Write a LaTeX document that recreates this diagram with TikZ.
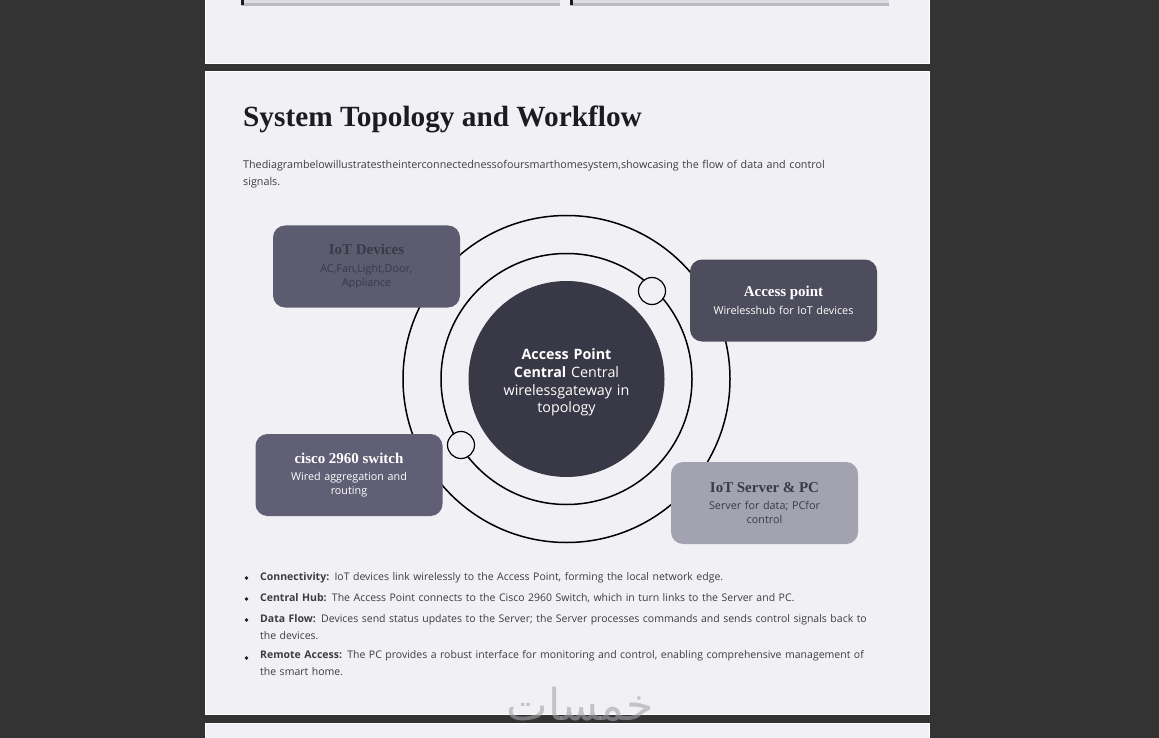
\documentclass[tikz,border=0pt]{standalone}
\usepackage{fontspec}
\setmainfont{Open Sans}
\newfontfamily\headfont{Liberation Serif}
\newfontfamily\arabicfont[Script=Arabic]{DejaVu Sans}
\TeXXeTstate=1
\usetikzlibrary{positioning}
\definecolor{Backdrop}{RGB}{51,51,51}
\definecolor{Sheet}{RGB}{241,240,245}
\definecolor{CardTop}{RGB}{221,220,226}
\definecolor{CardEdge}{RGB}{186,185,193}
\definecolor{Ink}{RGB}{28,27,34}
\definecolor{Body}{RGB}{60,60,66}
\definecolor{Core}{RGB}{57,56,70}
\definecolor{Slate}{RGB}{92,91,112}
\definecolor{DeepSlate}{RGB}{78,77,94}
\definecolor{Violet}{RGB}{96,95,118}
\definecolor{Mist}{RGB}{163,162,176}
\definecolor{DarkText}{RGB}{58,57,70}
\definecolor{Mark}{RGB}{165,165,168}
\tikzset{
  sheet/.style={fill=Sheet,draw=white,line width=0.8pt},
  card/.style={rounded corners=12pt,minimum width=187pt,minimum height=82pt,text width=176pt,align=center,inner sep=0pt,font=\fontsize{10.8}{13.6}\selectfont},
  ring/.style={draw=black,line width=1.5pt},
  port/.style={circle,draw=black,line width=1.2pt,fill=Sheet,minimum size=27pt,inner sep=0pt},
  bullettext/.style={anchor=north west,inner sep=0pt,text width=614pt,align=left,text=Body,font=\fontsize{10.5}{17}\selectfont},
  dot/.style={circle,fill=Ink,minimum size=3.6pt,inner sep=0pt}
}
\newcommand{\cardtitle}[1]{{\headfont\bfseries\fontsize{15}{15}\selectfont #1}}

\begin{document}
\begin{tikzpicture}[x=1pt,y=-1pt]
\useasboundingbox (0,0) rectangle (1159,738);
\fill[Backdrop] (0,0) rectangle (1159,738);
% pages
\path[sheet] (205,-2) rectangle (929,63);
\path[sheet] (205,71) rectangle (929,714);
\path[sheet] (205,723) rectangle (929,740);
% cut-off cards of the page above
\foreach \x in {241,570} {
  \fill[CardTop] (\x,-2) rectangle ++(319,7);
  \fill[CardEdge] (\x,3.2) rectangle ++(319,2.4);
  \fill[Ink] (\x,-2) rectangle ++(3,7.5);
}
% heading
\node[anchor=base west,inner sep=0pt,text=Ink,font=\headfont\bfseries\fontsize{29.3}{29.3}\selectfont] (title) at (243,127) {System Topology and Workflow};
\node[anchor=north west,inner sep=0pt,text width=600pt,align=left,text=Body,font=\fontsize{10.75}{17}\selectfont] (intro) at (243,160) {Thediagrambelowillustratestheinterconnectednessofoursmarthomesystem,showcasing the flow of data and control\\signals.};
% rings
\draw[ring] (566.5,379) circle[radius=163.5];
\draw[ring] (566.5,379) circle[radius=125.5];
\node[circle,fill=Core,minimum size=196pt,inner sep=0pt] (core) at (566.5,379) {};
\node[text width=160pt,align=center,text=white,inner sep=0pt,font=\fontsize{14.3}{17.7}\selectfont] (coretext) at (566.5,382.5) {\textbf{Access Point}\\\textbf{Central} Central\\wirelessgateway in\\topology};
\node[port] (portap) at (652,291) {};
\node[port] (portsw) at (461,445) {};
% cards
\node[card,fill=Slate,text=DarkText] (iot) at (366.5,266.5) {\cardtitle{IoT Devices}\\[4pt]AC,Fan,Light,Door,\\Appliance};
\node[card,fill=DeepSlate,text=white] (ap) at (783.5,300.5) {\cardtitle{Access point}\\[4pt]Wirelesshub for IoT devices};
\node[card,fill=Violet,text=white] (switch) at (349,475) {\cardtitle{cisco 2960 switch}\\[4pt]Wired aggregation and\\routing};
\node[card,fill=Mist,text=DarkText] (server) at (764.5,503) {\cardtitle{IoT Server \& PC}\\[4pt]Server for data; PCfor\\control};
% bullet list
\node[bullettext] (b1) at (260,572) {\textbf{Connectivity:} IoT devices link wirelessly to the Access Point, forming the local network edge.};
\node[bullettext] (b2) at (260,593) {\textbf{Central Hub:} The Access Point connects to the Cisco 2960 Switch, which in turn links to the Server and PC.};
\node[bullettext] (b3) at (260,614) {\textbf{Data Flow:} Devices send status updates to the Server; the Server processes commands and sends control signals back to the devices.};
\node[bullettext] (b4) at (260,650) {\textbf{Remote Access:} The PC provides a robust interface for monitoring and control, enabling comprehensive management of the smart home.};
\foreach \y in {578,599,620,658} \node[dot] at (246.5,\y) {};
% watermark
\node[text=Mark,opacity=0.6,inner sep=0pt,font=\arabicfont\fontsize{44}{44}\selectfont] (mark) at (580,704) {\beginR خمسات\endR};
\end{tikzpicture}
\end{document}
